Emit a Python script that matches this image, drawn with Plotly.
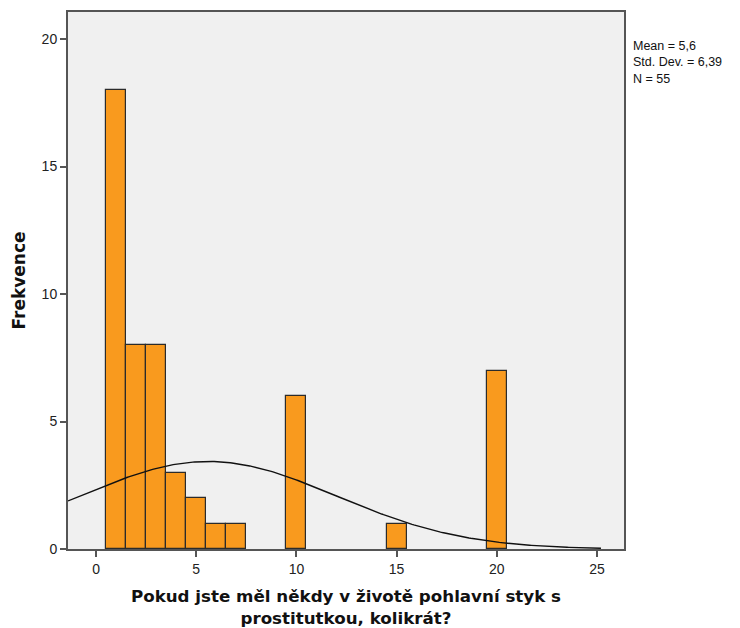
import numpy as np
import plotly.graph_objects as go

values = [1, 2, 3, 4, 5, 6, 7, 10, 15, 20]
counts = [18, 8, 8, 3, 2, 1, 1, 6, 1, 7]
mean_val = 5.6
std_val = 6.39
n_val = 55
x_ticks = [0, 5, 10, 15, 20, 25]
y_ticks = [0, 5, 10, 15, 20]
stats_lines = ["Mean = 5,6", "Std. Dev. = 6,39", "N = 55"]

fig = go.Figure()
fig.add_trace(go.Bar(
    x=values, y=counts, width=[1] * len(values),
    marker=dict(color="#f99a1e", line=dict(color="#2b2b2b", width=1.2)),
    showlegend=False, hoverinfo="skip",
))

xs = np.linspace(-1.4, 25.2, 300)
ys = n_val * 1.0 / (std_val * np.sqrt(2 * np.pi)) * np.exp(-0.5 * ((xs - mean_val) / std_val) ** 2)
fig.add_trace(go.Scatter(x=xs, y=ys, mode="lines", line=dict(color="#111111", width=1.4),
                         showlegend=False, hoverinfo="skip"))

fig.update_layout(
    width=740, height=628,
    margin=dict(l=68, r=116, t=12, b=79),
    paper_bgcolor="white", plot_bgcolor="#f0f0f0",
    bargap=0,
    font=dict(family="Liberation Sans, Arial, sans-serif", color="#222222"),
    annotations=[dict(
        x=1.0, y=1.0, xref="paper", yref="paper", xanchor="left", yanchor="top",
        xshift=8, yshift=-26, align="left", showarrow=False,
        text="<br>".join(stats_lines), borderpad=0,
        font=dict(size=12.5, family="Liberation Sans, Arial, sans-serif", color="#111111"),
    )],
)
fig.update_xaxes(
    range=[-1.4, 26.35], tickvals=x_ticks, ticktext=[str(v) for v in x_ticks],
    showgrid=False, zeroline=False, showline=True, linecolor="#555555", linewidth=2,
    ticks="outside", ticklen=6, tickcolor="#555555", tickwidth=2, automargin=False,
    tickfont=dict(size=14, color="#222222"), mirror=True,
    title=dict(text="<b>Pokud jste měl někdy v životě pohlavní styk s<br>prostitutkou, kolikrát?</b>",
               font=dict(size=16.7, family="DejaVu Sans, Verdana, sans-serif", color="#111111"),
               standoff=16),
)
fig.update_yaxes(
    range=[0, 21.06], tickvals=y_ticks, ticktext=[str(v) for v in y_ticks],
    showgrid=False, zeroline=False, showline=True, linecolor="#555555", linewidth=2,
    ticks="outside", ticklen=6, tickcolor="#555555", tickwidth=2, automargin=False,
    tickfont=dict(size=14, color="#222222"), mirror=True,
    title=dict(text="<b>Frekvence</b>",
               font=dict(size=17, family="DejaVu Sans, Verdana, sans-serif", color="#111111"),
               standoff=12),
)

fig.write_html("out.html", config={"displayModeBar": False},
               post_script="document.body.style.margin='0';")
